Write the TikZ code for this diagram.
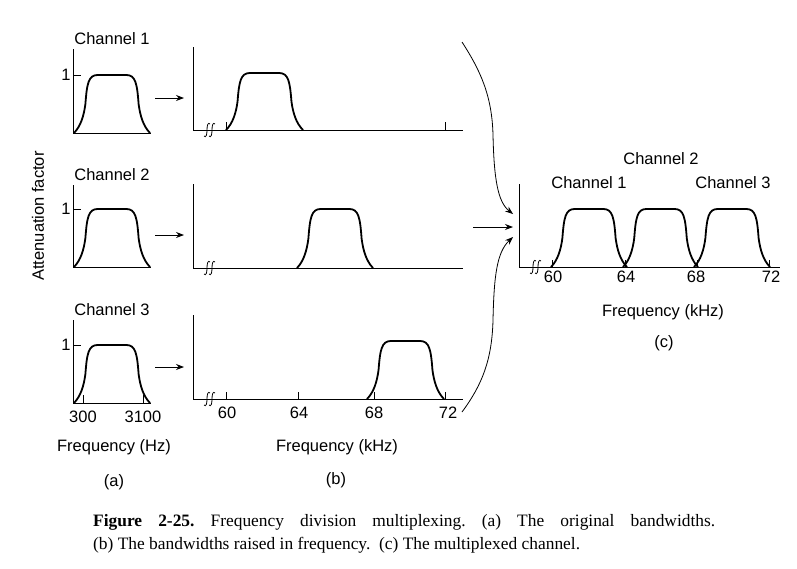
\documentclass[tikz,border=0pt]{standalone}
\usepackage{fontspec}
\setmainfont{Liberation Sans}
\newfontfamily\capfont{Liberation Serif}
\usetikzlibrary{arrows.meta}

% one pass band: foot at (#1,#2), width #3, height #4
\newcommand{\band}[4]{%
  \begin{scope}[shift={(#1,#2)},xscale=#3,yscale=#4]
    \draw[curve] (0,0) .. controls (0.09,-0.12) and (0.13,-0.3) .. (0.15,-0.5)
      .. controls (0.17,-0.85) and (0.19,-1) .. (0.31,-1) -- (0.69,-1)
      .. controls (0.81,-1) and (0.83,-0.85) .. (0.85,-0.5)
      .. controls (0.87,-0.3) and (0.91,-0.12) .. (1,0);
  \end{scope}}
% axis break marks
\newcommand{\axbreak}[2]{%
  \foreach \dx in {0,5}{
    \draw[axis] (#1+\dx-3,#2+6) .. controls (#1+\dx-1,#2+8) and (#1+\dx,#2+5) .. (#1+\dx,#2)
      .. controls (#1+\dx,#2-5) and (#1+\dx+1,#2-8) .. (#1+\dx+3,#2-6);
  }}

\begin{document}
\begin{tikzpicture}[x=1pt,y=-1pt]
\tikzstyle{axis}=[line width=0.8pt]
\tikzstyle{curve}=[line width=1.8pt, line join=round]
\tikzstyle{conn}=[line width=0.8pt, -{Stealth[length=8pt,width=6pt]}]
\tikzstyle{lbl}=[font=\fontsize{16.5}{19}\selectfont, inner sep=0pt]
\tikzstyle{caption}=[font=\capfont\fontsize{17.4}{23.5}\selectfont\frenchspacing, inner sep=0pt, text width=622pt, align=justify]
\useasboundingbox (0,0) rectangle (797,568);

% (a) original bandwidths
\foreach \yb/\yt/\n/\ya in {133/49/1/98, 267/185/2/235, 403/320/3/367}{
  \draw[axis] (73,\yt) -- (73,\yb) -- (151,\yb);
  \draw[axis] (73,\yb-58) -- (81,\yb-58);
  \node[lbl] (one\n) at (66,\yb-58) {1};
  \node[lbl] (chan\n) at (112,\yt-10) {Channel \n};
  \band{74}{\yb}{76}{58}
  \coordinate (ra\n) at (155,\ya);
  \coordinate (rb\n) at (184,\ya);
  \draw[conn] (ra\n) -- (rb\n);
}
\draw[axis] (83,395) -- (83,403);
\draw[axis] (143,395) -- (143,403);
\node[lbl] (f300) at (83,417) {300};
\node[lbl] (f3100) at (143,417) {3100};
\node[lbl] (freqA) at (114,447) {Frequency (Hz)};
\node[lbl] (capA) at (114,482) {(a)};
\node[lbl, rotate=90] (att) at (38,216) {Attenuation factor};

% (b) raised bandwidths
\foreach \yb/\yt in {130/47, 268/184, 399/315}{
  \draw[axis] (193,\yt) -- (193,\yb) -- (463,\yb);
  \axbreak{207}{\yb}
}
\draw[axis] (226,122) -- (226,130);
\draw[axis] (445,122) -- (445,130);
\band{226}{130}{77}{57}
\band{297}{268}{76}{59}
\foreach \x in {226,298,374,445}
  \draw[axis] (\x,392) -- (\x,399);
\band{367}{399}{77}{58}
\node[lbl] (b60) at (227,413) {60};
\node[lbl] (b64) at (299,413) {64};
\node[lbl] (b68) at (374,413) {68};
\node[lbl] (b72) at (448,413) {72};
\node[lbl] (freqB) at (337,447) {Frequency (kHz)};
\node[lbl] (capB) at (336,480) {(b)};

% (c) multiplexed channel
\draw[axis] (519,184) -- (519,267) -- (780,267);
\axbreak{533}{267}
\foreach \x in {552,625,697,769}
  \draw[axis] (\x,260) -- (\x,267);
\band{551}{267}{76}{58}
\band{623}{267}{75}{58}
\band{694}{267}{76}{58}
\node[lbl] (c60) at (553,277) {60};
\node[lbl] (c64) at (626,277) {64};
\node[lbl] (c68) at (696,277) {68};
\node[lbl] (c72) at (771,277) {72};
\node[lbl] (chC2) at (661,159) {Channel 2};
\node[lbl] (chC1) at (589,183) {Channel 1};
\node[lbl] (chC3) at (733,183) {Channel 3};
\node[lbl] (freqC) at (663,312) {Frequency (kHz)};
\node[lbl] (capC) at (664,343) {(c)};

% into the multiplexed channel
\coordinate (inA) at (462,42);
\coordinate (tipA) at (513,214);
\coordinate (inB) at (473,227);
\coordinate (tipB) at (513,227);
\coordinate (inC) at (462,412);
\coordinate (tipC) at (513,237);
\draw[conn] (inA) .. controls (480,70) and (492,95) .. (493,135)
  .. controls (494,180) and (498,202) .. (tipA);
\draw[conn] (inB) -- (tipB);
\draw[conn] (inC) .. controls (482,385) and (492,360) .. (493,320)
  .. controls (494,275) and (497,252) .. (tipC);

\node[caption, anchor=north west] (cap) at (93,514) {\textbf{Figure 2-25.} Frequency division multiplexing. (a)~The original bandwidths.\linebreak (b) The bandwidths raised in frequency.\ \ (c) The multiplexed channel.};
\end{tikzpicture}
\end{document}
